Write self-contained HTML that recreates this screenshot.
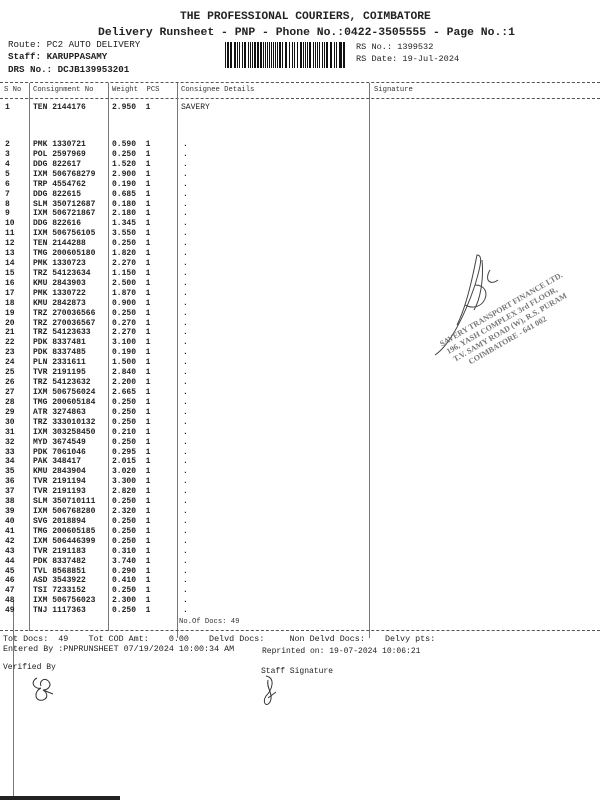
<!DOCTYPE html>
<html><head><meta charset="utf-8"><style>
body{margin:0;width:600px;height:800px;background:#fff;position:relative;overflow:hidden;font-family:"Liberation Mono",monospace;color:#222}
.t{position:absolute;white-space:pre;line-height:10px}
.r{font-size:8px;font-weight:bold}
.h{font-size:7.2px;color:#333}
.dash{position:absolute;left:0;width:600px;border-top:1px dashed #555;height:0}
.v{position:absolute;width:0;border-left:1px solid #777}
</style></head><body>
<div class="t" style="left:180px;top:12px;font-size:11.3px;font-weight:bold">THE PROFESSIONAL COURIERS, COIMBATORE</div>
<div class="t" style="left:98px;top:28px;font-size:11.4px;font-weight:bold">Delivery Runsheet - PNP - Phone No.:0422-3505555 - Page No.:1</div>
<div class="t" style="left:8px;top:40px;font-size:9.2px">Route: PC2 AUTO DELIVERY</div>
<div class="t" style="left:8px;top:52px;font-size:9.2px;font-weight:bold">Staff: KARUPPASAMY</div>
<div class="t" style="left:8px;top:65px;font-size:9.2px;font-weight:bold">DRS No.: DCJB139953201</div>
<div class="t" style="left:356px;top:42px;font-size:8.6px">RS No.: 1399532</div>
<div class="t" style="left:356px;top:54px;font-size:8.6px">RS Date: 19-Jul-2024</div>
<svg style="position:absolute;left:225px;top:42px" width="123" height="26" id="bc"></svg>
<div class="dash" style="top:82px"></div>
<div class="t h" style="left:4px;top:85px">S No</div>
<div class="t h" style="left:33px;top:85px">Consignment No</div>
<div class="t h" style="left:112px;top:85px">Weight  PCS</div>
<div class="t h" style="left:181px;top:85px">Consignee Details</div>
<div class="t h" style="left:374px;top:85px">Signature</div>
<div class="dash" style="top:98px"></div>
<div class="v" style="left:29px;top:83px;height:548px"></div>
<div class="v" style="left:108px;top:83px;height:548px"></div>
<div class="v" style="left:177px;top:83px;height:555px"></div>
<div class="v" style="left:369px;top:83px;height:555px"></div>
<div class="v" style="left:13px;top:600px;height:200px"></div>
<div class="t r" style="left:5px;top:103px">1</div>
<div class="t r" style="left:33px;top:103px">TEN 2144176</div>
<div class="t r" style="left:112px;top:103px">2.950  1</div>
<div class="t r" style="left:181px;top:103px;font-weight:normal">SAVERY</div>
<div id="rows"></div>
<div class="t h" style="left:179px;top:617px">No.Of Docs: 49</div>
<div class="dash" style="top:630px"></div>
<div class="t" style="left:3px;top:634px;font-size:8.4px">Tot Docs:  49    Tot COD Amt:    0.00    Delvd Docs:     Non Delvd Docs:    Delvy pts:</div>
<div class="t" style="left:3px;top:644px;font-size:8.4px">Entered By :PNPRUNSHEET 07/19/2024 10:00:34 AM</div>
<div class="t" style="left:262px;top:647px;font-size:8px">Reprinted on: 19-07-2024 10:06:21</div>
<div class="t" style="left:3px;top:663px;font-size:8px">Verified By</div>
<div class="t" style="left:261px;top:667px;font-size:8px">Staff Signature</div>
<svg style="position:absolute;left:25px;top:672px" width="40" height="32"><path d="M12 6c-8 4-2 12 4 10-8 4-6 14 2 12 6-2 4-8 0-10 6 0 10-6 4-10-4-2-8 2-6 6M18 18l10 4" fill="none" stroke="#333" stroke-width="1"/></svg>
<svg style="position:absolute;left:258px;top:672px" width="30" height="40"><path d="M8 4c10 2 6 14 0 20-4 6 0 12 4 6 4-8-4-14-2-22M10 26l8-6" fill="none" stroke="#333" stroke-width="1"/></svg>
<svg style="position:absolute;left:370px;top:245px" width="230" height="125">
<path d="M65 110c15-10 30-40 40-70 6-20 8-30 2-30-4 20-10 50-20 70M95 60c20 10 30-20 10-20M112 15c2 20-2 40-8 50M120 25c-6 10 0 16 8 10" fill="none" stroke="#444" stroke-width="1"/>
<g transform="rotate(-30 125 80)" font-family="Liberation Serif,serif" font-size="8" fill="#777" font-weight="bold">
<text x="68" y="72">SAVERY TRANSPORT FINANCE LTD.</text>
<text x="70" y="82">196, YASH COMPLEX 3rd FLOOR,</text>
<text x="72" y="92">T.V. SAMY ROAD (W), R.S. PURAM</text>
<text x="84" y="102">COIMBATORE - 641 002</text></g></svg>
<div style="position:absolute;left:0;top:796px;width:120px;height:4px;background:#222"></div>
<script>
var d=`PMK 1330721|0.590
POL 2597969|0.250
DDG 822617|1.520
IXM 506768279|2.900
TRP 4554762|0.190
DDG 822615|0.685
SLM 350712687|0.180
IXM 506721867|2.180
DDG 822616|1.345
IXM 506756105|3.550
TEN 2144288|0.250
TMG 200605180|1.820
PMK 1330723|2.270
TRZ 54123634|1.150
KMU 2843903|2.500
PMK 1330722|1.870
KMU 2842873|0.900
TRZ 270036566|0.250
TRZ 270036567|0.270
TRZ 54123633|2.270
PDK 8337481|3.100
PDK 8337485|0.190
PLN 2331611|1.500
TVR 2191195|2.840
TRZ 54123632|2.200
IXM 506756024|2.665
TMG 200605184|0.250
ATR 3274863|0.250
TRZ 333010132|0.250
IXM 303258450|0.210
MYD 3674549|0.250
PDK 7061046|0.295
PAK 348417|2.015
KMU 2843904|3.020
TVR 2191194|3.300
TVR 2191193|2.820
SLM 350710111|0.250
IXM 506768280|2.320
SVG 2018894|0.250
TMG 200605185|0.250
IXM 506446399|0.250
TVR 2191183|0.310
PDK 8337482|3.740
TVL 8568851|0.290
ASD 3543922|0.410
TSI 7233152|0.250
IXM 506756023|2.300
TNJ 1117363|0.250`.split('\n');
var h='';d.forEach(function(l,i){var p=l.split('|'),y=140+i*9.92;
h+='<div class="t r" style="left:5px;top:'+y+'px">'+(i+2)+'</div><div class="t r" style="left:33px;top:'+y+'px">'+p[0]+'</div><div class="t r" style="left:112px;top:'+y+'px">'+p[1]+'  1</div><div class="t r" style="left:183px;top:'+y+'px">.</div>';});
document.getElementById('rows').innerHTML=h;
var s='',x=0,k=7;while(x<121){k=(k*37+11)%97;var w=1+(k%5==0?1:0)+(k%11==0?1:0);s+='<rect x="'+x+'" y="0" width="'+w+'" height="26" fill="#111"/>';k=(k*37+11)%97;x+=w+1+(k%3==0?1:0);}
document.getElementById('bc').innerHTML=s;
</script>
</body></html>
